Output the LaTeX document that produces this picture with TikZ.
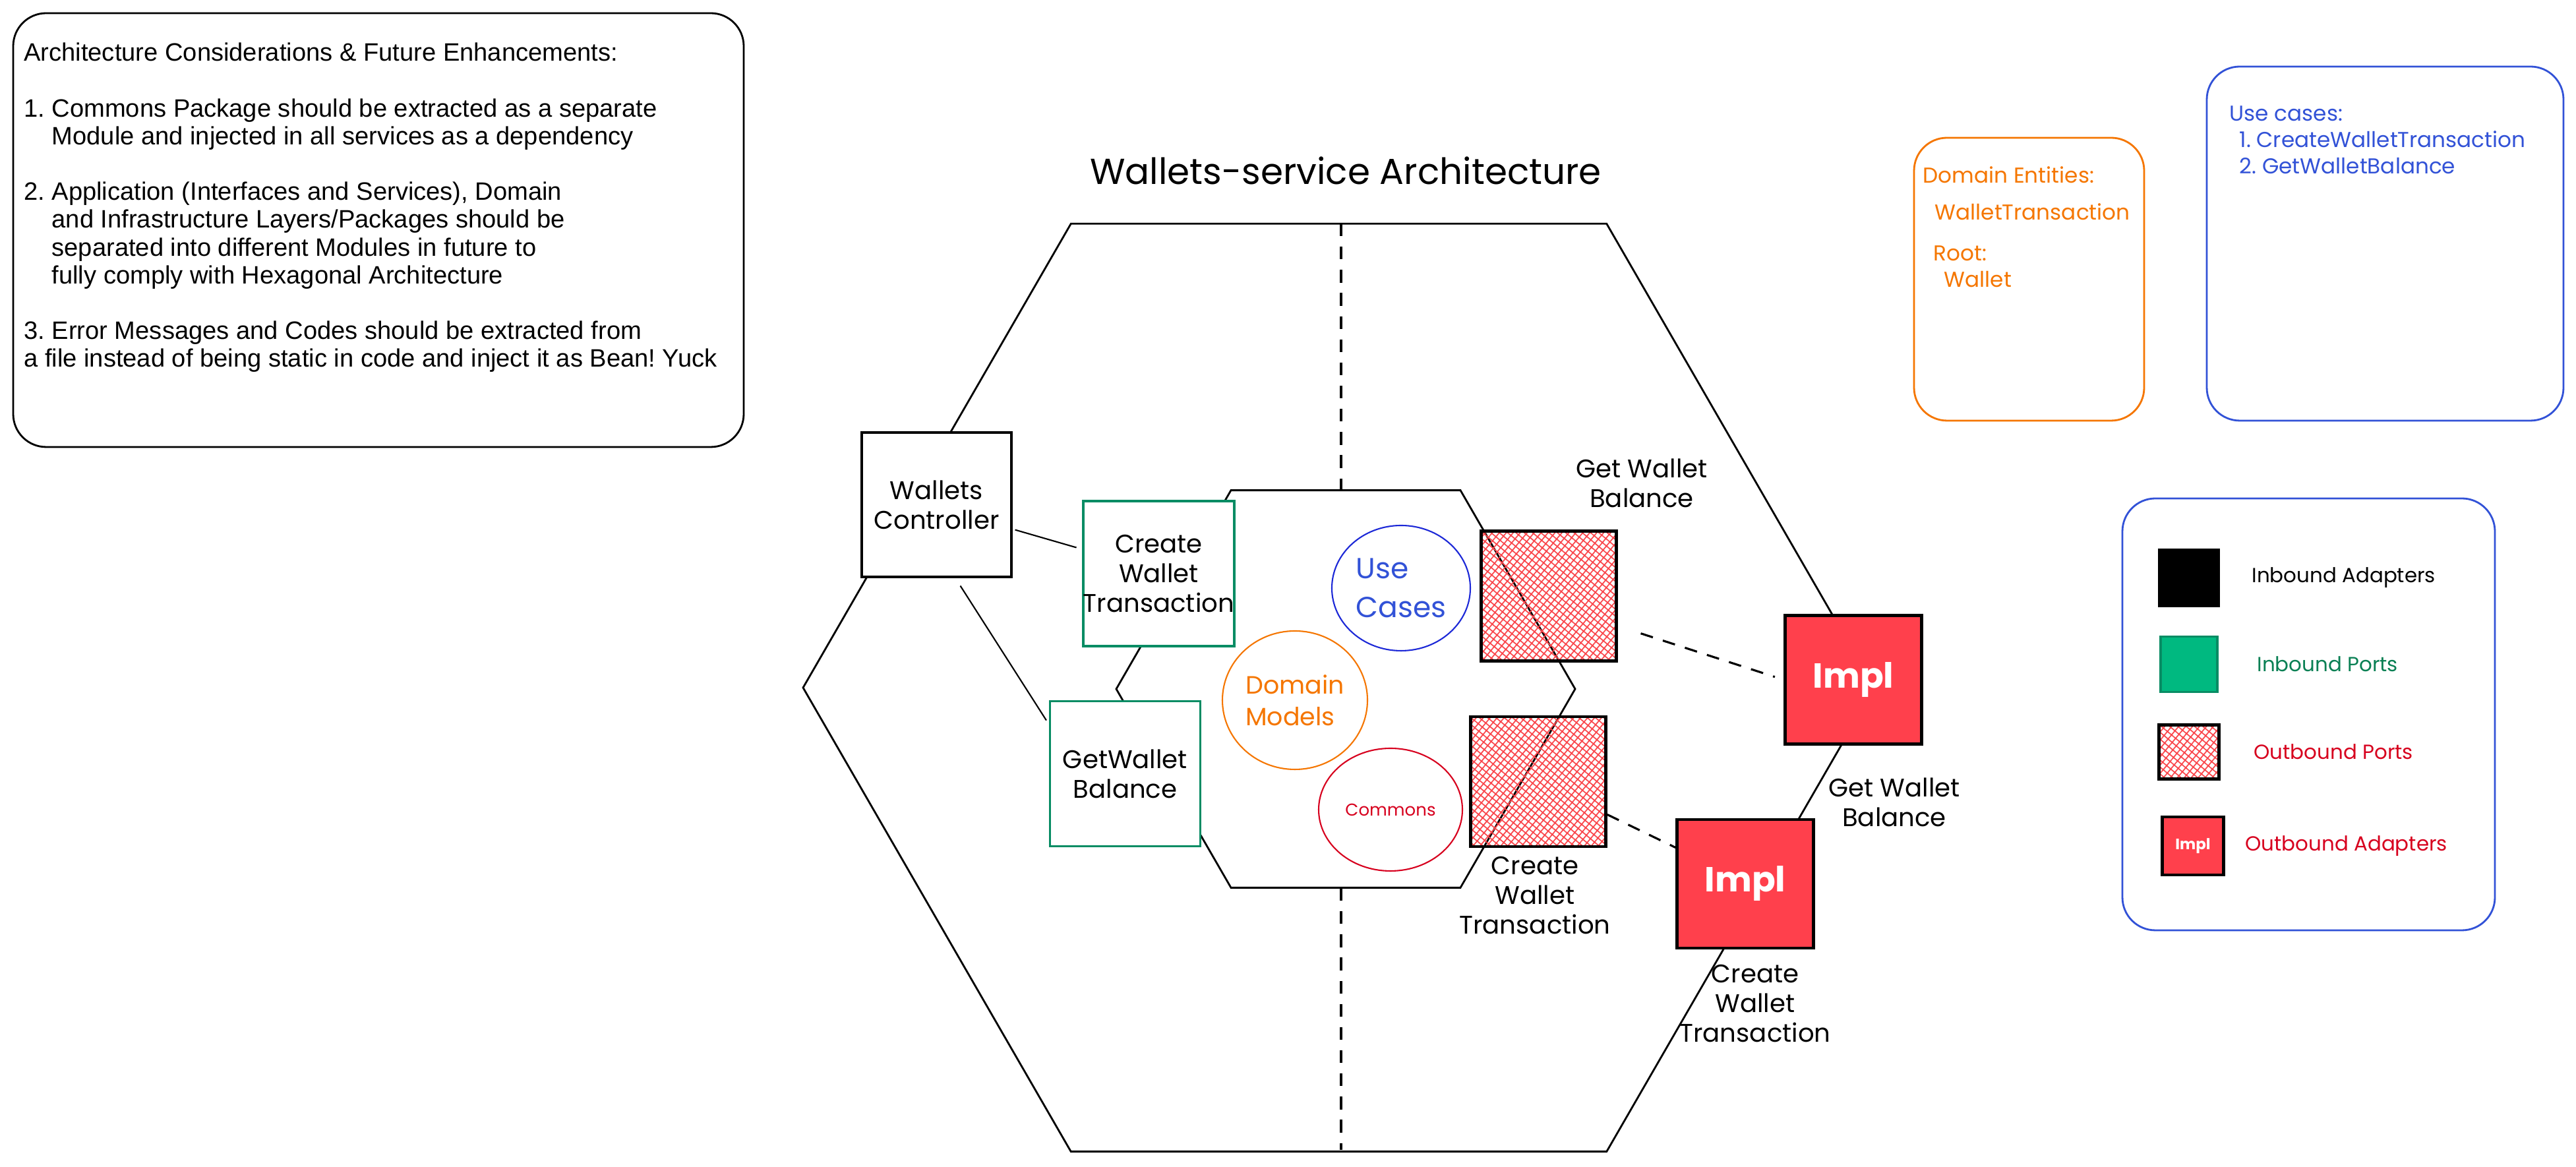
\documentclass[tikz,border=0pt]{standalone}
\usepackage{fontspec}
\setmainfont{Poppins}
\newfontfamily\notefont{Liberation Sans}
\usetikzlibrary{arrows.meta, positioning, shapes, calc, patterns.meta}
\frenchspacing

\definecolor{PortGreen}{RGB}{8, 140, 100}
\definecolor{LegendGreen}{RGB}{0, 185, 128}
\definecolor{TextGreen}{RGB}{10, 128, 84}
\definecolor{Tangerine}{RGB}{245, 118, 0}
\definecolor{RoyalBlue}{RGB}{50, 82, 215}
\definecolor{RingBlue}{RGB}{28, 40, 215}
\definecolor{Scarlet}{RGB}{215, 0, 30}
\definecolor{ImplRed}{RGB}{255, 64, 76}
\definecolor{HatchRed}{RGB}{250, 70, 75}

\begin{document}
\begin{tikzpicture}[every node/.style={font=\fontsize{11}{12.8}\selectfont},
    adapter/.style={draw, line width=1pt, fill=white, minimum width=2.27cm, minimum height=2.19cm, align=center, inner sep=0pt},
    inport/.style={draw=PortGreen, line width=1pt, fill=white, minimum width=2.28cm, minimum height=2.2cm, align=center, inner sep=0pt},
    outport/.style={draw, line width=1.3pt, pattern={Hatch[angle=50, distance=2.3pt, line width=0.5pt]}, pattern color=HatchRed, minimum width=2.05cm, minimum height=1.97cm, inner sep=0pt},
    implbox/.style={draw, line width=1.3pt, fill=ImplRed, text=white, minimum width=2.07cm, minimum height=1.95cm, inner sep=0pt, font=\fontsize{15}{18}\selectfont\bfseries},
    ring/.style={ellipse, draw, line width=0.6pt, inner sep=0pt, align=left},
    panel/.style={draw, line width=0.8pt, rounded corners=0.5cm},
    seam/.style={line width=0.9pt, dash pattern=on 5.5pt off 4.5pt},
    link/.style={line width=0.6pt},
    portlabel/.style={align=center, inner sep=0pt},
    entry/.style={anchor=west, inner sep=0pt, text=Tangerine, font=\fontsize{9.3}{11.4}\selectfont},
    legendtext/.style={inner sep=0pt, font=\fontsize{8.8}{10}\selectfont}]

    \useasboundingbox (0,0) rectangle (39.07,17.70);
    \fill[white] (0,0) rectangle (39.07,17.70);

    % notes
    \node[panel, minimum width=11.08cm, minimum height=6.58cm] (notebox) at (5.74,14.21) {};
    \node[anchor=north west, align=left, inner sep=0pt, font=\notefont\fontsize{10.85}{12}\selectfont] (notes) at ([xshift=0.17cm, yshift=-0.46cm]notebox.north west) {Architecture Considerations \& Future Enhancements:\\[12pt]
        1. Commons Package should be extracted as a separate\\
        \phantom{1. }Module and injected in all services as a dependency\\[12pt]
        2. Application (Interfaces and Services), Domain\\
        \phantom{2. }and Infrastructure Layers/Packages should be\\
        \phantom{2. }separated into different Modules in future to\\
        \phantom{2. }fully comply with Hexagonal Architecture\\[12pt]
        3. Error Messages and Codes should be extracted from\\
        a file instead of being static in code and inject it as Bean! Yuck};

    \node[font=\fontsize{15.6}{18}\selectfont] (title) at (20.41,15.11) {Wallets-service Architecture};

    % hexagons
    \coordinate (hubo) at (20.305,7.27);
    \coordinate (hubi) at (20.41,7.25);
    \draw[line width=0.8pt] ($(hubo)+(8.125,0)$) -- ++(120:8.125) -- ++(180:8.125) -- ++(240:8.125) -- ++(300:8.125) -- ++(0:8.125) -- cycle;
    \draw[line width=0.8pt] ($(hubi)+(3.48,0)$) -- ++(120:3.48) -- ++(180:3.48) -- ++(240:3.48) -- ++(300:3.48) -- ++(0:3.48) -- cycle;
    \draw[seam] (20.34,14.31) -- (20.34,10.27);
    \draw[seam] (20.34,4.23) -- (20.34,0.26);

    % adapters and ports
    \node[adapter] (ctrl) at (14.205,10.045) {Wallets\\Controller};
    \node[inport] (createtx) at (17.575,9.00) {Create\\Wallet\\Transaction};
    \node[inport] (getbal) at (17.065,5.965) {GetWallet\\Balance};

    \node[ring, draw=RingBlue, text=RoyalBlue, minimum width=2.10cm, minimum height=1.90cm, font=\fontsize{12.5}{17}\selectfont] (usecases) at (21.25,8.78) {Use\\Cases};
    \node[ring, draw=Tangerine, text=Tangerine, minimum width=2.20cm, minimum height=2.10cm, font=\fontsize{10.8}{13.7}\selectfont] (domain) at (19.64,7.08) {Domain\\Models};
    \node[ring, draw=Scarlet, text=Scarlet, minimum width=2.18cm, minimum height=1.86cm, font=\fontsize{7.4}{9}\selectfont] (commons) at (21.09,5.42) {Commons};

    \node[outport] (outbal) at (23.49,8.66) {};
    \node[outport] (outtx) at (23.33,5.845) {};
    \node[portlabel] (outballbl) at (24.90,10.37) {Get Wallet\\Balance};
    \node[portlabel, below=0.12cm of outtx, xshift=-0.05cm] (outtxlbl) {Create\\Wallet\\Transaction};

    \node[implbox] (implbal) at (28.11,7.39) {Impl};
    \node[implbox] (impltx) at (26.47,4.295) {Impl};
    \node[portlabel, below=0.48cm of implbal, xshift=0.62cm] (implballbl) {Get Wallet\\Balance};
    \node[portlabel, below=0.22cm of impltx, xshift=0.15cm] (impltxlbl) {Create\\Wallet\\Transaction};

    \draw[link, shorten <=0.04cm, shorten >=0.09cm] ([yshift=-0.37cm]ctrl.east) -- ([yshift=0.37cm]createtx.west);
    \draw[link, shorten <=0.14cm, shorten >=0.07cm] ([xshift=0.285cm]ctrl.south) -- ([yshift=0.75cm]getbal.west);
    \draw[seam, shorten <=0.38cm, shorten >=0.14cm] ([yshift=-0.45cm]outbal.east) -- (implbal.west);
    \draw[seam] ([yshift=-0.5cm]outtx.east) -- ([yshift=0.55cm]impltx.west);

    % domain entities and use cases
    \node[panel, draw=Tangerine, minimum width=3.49cm, minimum height=4.29cm] (entities) at (30.775,13.465) {};
    \node[entry] (entitieshead) at (29.16,15.05) {Domain Entities:};
    \node[entry] (wallettx) at (29.34,14.49) {WalletTransaction};
    \node[entry] (roothead) at (29.32,13.86) {Root:};
    \node[entry] (rootwallet) at (29.48,13.46) {Wallet};

    \node[panel, draw=RoyalBlue, minimum width=5.41cm, minimum height=5.37cm] (cases) at (36.175,14.005) {};
    \node[anchor=north west, align=left, inner sep=0pt, text=RoyalBlue, font=\fontsize{9.3}{11.4}\selectfont] (caselist) at (33.81,16.10) {Use cases:\\
        \hspace*{0.15cm}1. CreateWalletTransaction\\
        \hspace*{0.15cm}2. GetWalletBalance};

    % legend
    \node[panel, draw=RoyalBlue, minimum width=5.65cm, minimum height=6.55cm] (legend) at (35.015,6.865) {};
    \node[adapter, fill=black, minimum width=0.90cm, minimum height=0.85cm] (legadapter) at (33.20,8.935) {};
    \node[inport, fill=LegendGreen, minimum width=0.86cm, minimum height=0.84cm, below=0.43cm of legadapter] (legport) {};
    \node[outport, minimum width=0.91cm, minimum height=0.82cm, below=0.46cm of legport] (legoutport) {};
    \node[implbox, minimum width=0.93cm, minimum height=0.88cm, font=\fontsize{6.5}{8}\selectfont\bfseries, below=0.53cm of legoutport, xshift=0.06cm] (legimpl) {Impl};

    \node[legendtext, right=0.48cm of legadapter] (legadaptertxt) {Inbound Adapters};
    \node[legendtext, text=TextGreen, right=0.58cm of legport] (legporttxt) {Inbound Ports};
    \node[legendtext, text=Scarlet, right=0.50cm of legoutport] (legoutporttxt) {Outbound Ports};
    \node[legendtext, text=Scarlet, right=0.30cm of legimpl] (legimpltxt) {Outbound Adapters};
\end{tikzpicture}
\end{document}
